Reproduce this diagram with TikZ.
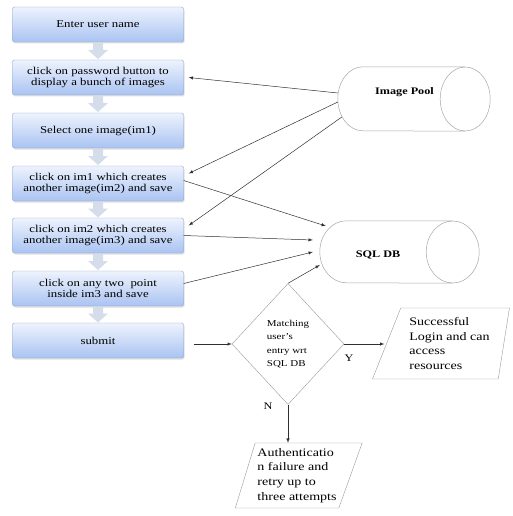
\documentclass[tikz,border=0pt]{standalone}
\usepackage{fontspec}
\setmainfont[FakeStretch=1.22]{Liberation Serif}
\usetikzlibrary{shapes.geometric, arrows, shadows, calc}

\definecolor{boxtop}{HTML}{EEF3FD}
\definecolor{boxbottom}{HTML}{A9C3F2}
\definecolor{boxline}{HTML}{8FA3C8}
\definecolor{gapfill}{HTML}{D5DDEB}
\definecolor{linkgray}{HTML}{303030}

\tikzset{
  stepbox/.style={rectangle, rounded corners=2pt, draw=boxline, top color=boxtop,
    bottom color=boxbottom, minimum width=171pt, minimum height=35pt, inner sep=1pt,
    align=center, font=\fontsize{10.5}{11}\selectfont,
    drop shadow={opacity=0.25, shadow xshift=1pt, shadow yshift=-1.5pt}},
  storebox/.style={rectangle, inner sep=0pt},
  storeline/.style={draw=gray!70, line width=0.5pt},
  storetext/.style={font=\fontsize{10}{12}\selectfont\bfseries},
  decision/.style={diamond, draw=gray!80, minimum width=112pt, minimum height=121pt,
    inner sep=0pt, align=left, font=\fontsize{9}{13.3}\selectfont},
  iobox/.style={trapezium, trapezium stretches=true, draw=gray!80, inner sep=0pt,
    align=left, font=\fontsize{11.5}{14.7}\selectfont},
  link/.style={draw=linkgray, line width=0.5pt, -latex},
  yn/.style={font=\fontsize{10}{12}\selectfont}
}

\begin{document}
\begin{tikzpicture}[x=1pt, y=-1pt]
\useasboundingbox (0,0) rectangle (513,516);

% Steps of the login
\node [stepbox] (b1) at ( 98, 24.5 ) {Enter user name};
\node [stepbox] (b2) at ( 98, 77.5 ) {click on password button to\\display a bunch of images};
\node [stepbox] (b3) at ( 98, 130.5 ) {Select one image(im1)};
\node [stepbox] (b4) at ( 98, 183.5 ) {click on im1 which creates\\another image(im2) and save};
\node [stepbox] (b5) at ( 98, 235.5 ) {click on im2 which creates\\another image(im3) and save};
\node [stepbox] (b6) at ( 98, 288.5 ) {click on any two\ \ point\\inside im3 and save};
\node [stepbox] (b7) at ( 98, 340.5 ) {submit};

% Block arrows between the steps
\foreach \i in {1,...,6} {
  \pgfmathtruncatemacro\k{\i+1}
  \fill [gapfill] ($(b\i.south)!.5!(b\k.north)$) +(-5,-8) -- +(5,-8) -- +(5,-1)
    -- +(10,-1) -- +(0,8) -- +(-10,-1) -- +(-5,-1) -- cycle;
}

% Stores
\node [storebox, minimum width=152pt, minimum height=64pt] (pool) at ( 414, 99 ) {};
\draw [storeline] ([xshift=-25pt]pool.north east) -- ([xshift=25pt]pool.north west)
  arc [start angle=90, end angle=270, x radius=25pt, y radius=32pt]
  -- ([xshift=-25pt]pool.south east);
\draw [storeline] ([xshift=-25pt]pool.east) ellipse [x radius=25pt, y radius=32pt];
\node [storetext] (poolname) at ( 404.5, 92 ) {Image Pool};

\node [storebox, minimum width=159pt, minimum height=62pt] (sql) at ( 399.5, 252 ) {};
\draw [storeline] ([xshift=-26.5pt]sql.north east) -- ([xshift=26.5pt]sql.north west)
  arc [start angle=90, end angle=270, x radius=26.5pt, y radius=31pt]
  -- ([xshift=-26.5pt]sql.south east);
\draw [storeline] ([xshift=-26.5pt]sql.east) ellipse [x radius=26.5pt, y radius=31pt];
\node [storetext] (sqlname) at ( 378, 255 ) {SQL DB};

% Check and results
\node [decision] (match) at ( 288, 344 ) {Matching\\user's\\entry wrt\\SQL DB};
\node [iobox, trapezium left angle=66, trapezium right angle=100,
  minimum width=137pt, minimum height=71pt] (login) at ( 449.5, 343.5 )
  {Successful\\Login and can\\access\\resources};
\node [iobox, trapezium left angle=71, trapezium right angle=112,
  minimum width=127pt, minimum height=65pt] (fail) at ( 297, 475.5 )
  {Authenticatio\\n failure and\\retry up to\\three attempts};

\node [yn] (yes) at ( 349, 358 ) {Y};
\node [yn] (no) at ( 268, 406 ) {N};

% Image pool to the steps
\draw [link] ([yshift=6pt]pool.west) -- ([xshift=5pt]b2.east);
\draw [link] ([yshift=-3pt]pool.west) -- ([xshift=5pt,yshift=10pt]b4.east);
\draw [link] ([xshift=4pt,yshift=-18pt]pool.west) -- ([xshift=5pt,yshift=10pt]b5.east);

% Steps to the database
\draw [link] ([yshift=3pt]b4.east) -- ([xshift=6pt,yshift=26pt]sql.west);
\draw [link] (b5.east) -- ([xshift=-7pt,yshift=12pt]sql.west);
\draw [link] ([yshift=5pt]b6.east) -- ([xshift=-7pt]sql.west);
\draw [link] (match.north) -- ([yshift=-13pt]sql.west);

% Flow of the check
\draw [link] ([xshift=10pt]b7.east |- match.west) -- (match.west);
\draw [link] (match.east) -- ([xshift=-2pt]match.east -| login.west);
\draw [link] (match.south) -- (match.south |- fail.north);

\end{tikzpicture}
\end{document}
